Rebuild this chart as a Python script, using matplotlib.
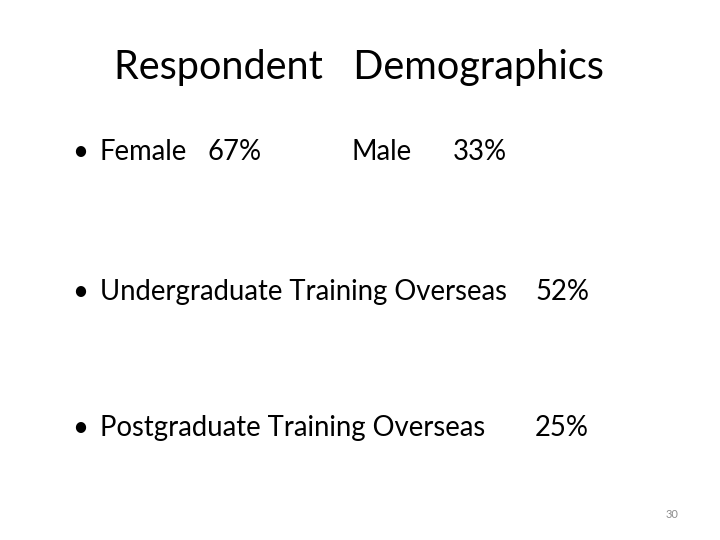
import matplotlib
matplotlib.use("Agg")
import matplotlib.pyplot as plt

title = "Respondent   Demographics"
gender_labels = ["Female", "Male"]
gender_values = [67, 33]
training_labels = ["Undergraduate Training Overseas", "Postgraduate Training Overseas"]
training_values = [52, 25]
page_number = "30"

fig = plt.figure(figsize=(7.2, 5.4), dpi=100)
fig.patch.set_facecolor("white")
fam = ["Lato", "DejaVu Sans"]

def px(x, y):
    return x / 720, 1 - y / 540

fig.text(*px(359, 68), title, ha="center", va="center", fontsize=28.5, family=fam)

fs = 19.8
fig.text(*px(72, 152), "•", ha="left", va="center", fontsize=fs, family=fam)
fig.text(*px(100, 152), gender_labels[0], ha="left", va="center", fontsize=fs, family=fam)
fig.text(*px(208, 152), f"{gender_values[0]}%", ha="left", va="center", fontsize=fs, family=fam)
fig.text(*px(351, 152), gender_labels[1], ha="left", va="center", fontsize=fs, family=fam)
fig.text(*px(453, 152), f"{gender_values[1]}%", ha="left", va="center", fontsize=fs, family=fam)

for y, lab, val, vx in [(292, training_labels[0], training_values[0], 535),
                        (428, training_labels[1], training_values[1], 535)]:
    fig.text(*px(72, y), "•", ha="left", va="center", fontsize=fs, family=fam)
    fig.text(*px(100, y), lab, ha="left", va="center", fontsize=fs, family=fam)
    fig.text(*px(vx, y), f"{val}%", ha="left", va="center", fontsize=fs, family=fam)

fig.text(*px(678, 514), page_number, ha="right", va="center", fontsize=8, color="#8c8c8c", family=fam)

fig.savefig("out.png", dpi=100)
